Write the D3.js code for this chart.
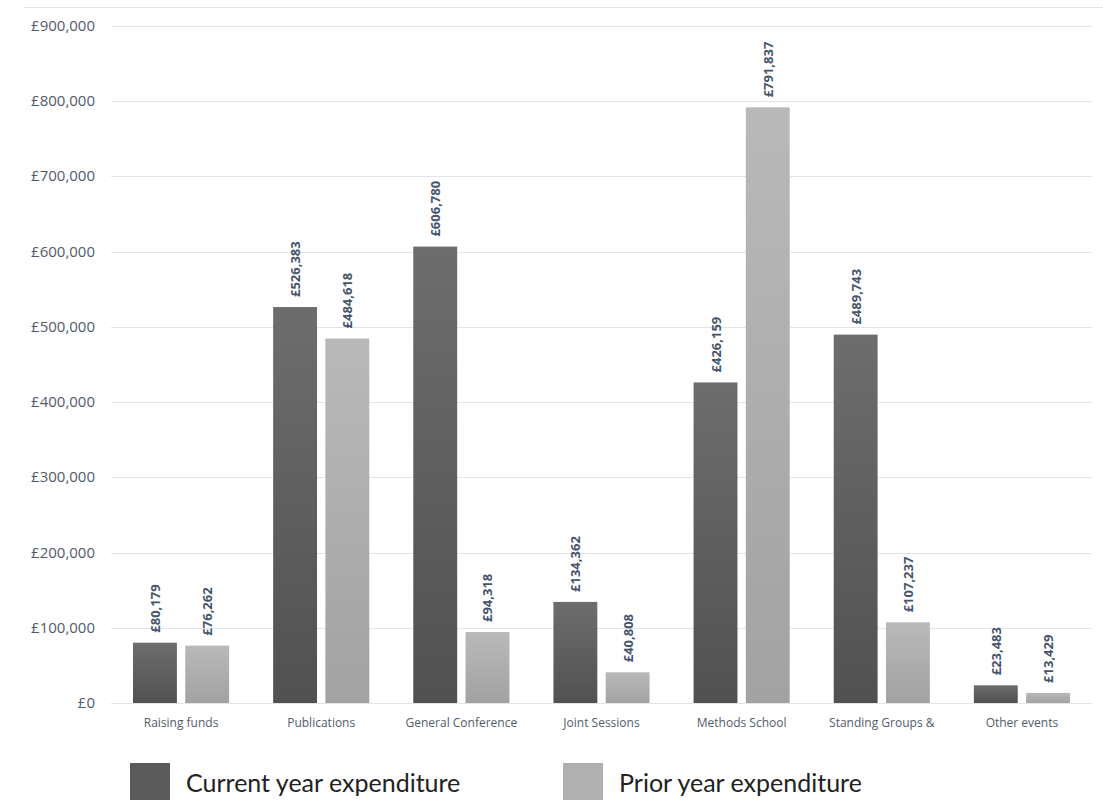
<!DOCTYPE html>
<html>
<head>
<meta charset="utf-8">
<script src="https://cdn.jsdelivr.net/npm/d3@7"></script>
<style>
  body { margin: 0; background: #fff; }
  svg { display: block; }
</style>
</head>
<body>
<div id="chart"></div>
<script>
// categories and values
const categories = ['Raising funds', 'Publications', 'General Conference', 'Joint Sessions', 'Methods School', 'Standing Groups &', 'Other events'];
const currentYear = [80179, 526383, 606780, 134362, 426159, 489743, 23483];
const priorYear = [76262, 484618, 94318, 40808, 791837, 107237, 13429];
const seriesNames = ['Current year expenditure', 'Prior year expenditure'];
const yTicks = [0, 100000, 200000, 300000, 400000, 500000, 600000, 700000, 800000, 900000];

const width = 1103, height = 800;
const margin = {top: 26, right: 11, bottom: 97, left: 111};

const svg = d3.select('#chart').append('svg')
    .attr('width', width)
    .attr('height', height);

// gradients for the bars (lighter at top, darker at bottom)
const defs = svg.append('defs');
function addGrad(id, top, bottom) {
    const g = defs.append('linearGradient').attr('id', id)
        .attr('x1', 0).attr('y1', 0).attr('x2', 0).attr('y2', 1);
    g.append('stop').attr('offset', '0%').attr('stop-color', top);
    g.append('stop').attr('offset', '100%').attr('stop-color', bottom);
}
addGrad('gCur', '#6d6d6d', '#515151');
addGrad('gPrior', '#b9b9b9', '#a2a2a2');

// thin line at the very top
svg.append('line')
    .attr('x1', 24).attr('x2', width)
    .attr('y1', 7.5).attr('y2', 7.5)
    .attr('stroke', '#e3e5ea');

const x0 = d3.scaleBand()
    .domain(categories)
    .range([margin.left, width - margin.right])
    .paddingInner(0).paddingOuter(0);

const x1 = d3.scaleBand()
    .domain(['cur', 'prior'])
    .range([22, x0.bandwidth() - 22])
    .paddingInner(0.16);

const y = d3.scaleLinear()
    .domain([0, 900000])
    .range([height - margin.bottom, margin.top]);

// grid
svg.append('g').selectAll('line')
    .data(yTicks)
    .join('line')
    .attr('x1', margin.left).attr('x2', width - margin.right)
    .attr('y1', d => Math.round(y(d)) + 0.5).attr('y2', d => Math.round(y(d)) + 0.5)
    .attr('stroke', '#e1e4ea');

// y labels
const fmt = d3.format(',');
svg.append('g').selectAll('text')
    .data(yTicks)
    .join('text')
    .attr('x', 95)
    .attr('y', d => y(d) + 5)
    .attr('text-anchor', 'end')
    .attr('font-family', 'Open Sans, sans-serif')
    .attr('font-size', 15)
    .attr('fill', '#515c6b')
    .text(d => '£' + fmt(d));

// x labels
svg.append('g').selectAll('text')
    .data(categories)
    .join('text')
    .attr('x', d => x0(d) + x0.bandwidth() / 2)
    .attr('y', 727)
    .attr('text-anchor', 'middle')
    .attr('font-family', 'Open Sans, sans-serif')
    .attr('font-size', 12)
    .attr('fill', '#515c6b')
    .text(d => d);

const rows = categories.map((c, i) => ({cat: c, vals: [
    {key: 'cur', v: currentYear[i]},
    {key: 'prior', v: priorYear[i]}
]}));

const groups = svg.append('g').selectAll('g')
    .data(rows)
    .join('g')
    .attr('transform', d => `translate(${x0(d.cat)},0)`);

groups.selectAll('rect')
    .data(d => d.vals)
    .join('rect')
    .attr('x', d => x1(d.key))
    .attr('width', x1.bandwidth())
    .attr('y', d => y(d.v))
    .attr('height', d => y(0) - y(d.v))
    .attr('fill', d => d.key === 'cur' ? 'url(#gCur)' : 'url(#gPrior)');

// value labels, rotated
groups.selectAll('text')
    .data(d => d.vals)
    .join('text')
    .attr('transform', d => `translate(${x1(d.key) + x1.bandwidth() / 2 + 5},${y(d.v) - 10}) rotate(-90)`)
    .attr('text-anchor', 'start')
    .attr('font-family', 'Open Sans, sans-serif')
    .attr('font-weight', 'bold')
    .attr('font-size', 13)
    .attr('fill', '#44546a')
    .text(d => '£' + fmt(d.v));

// legend
const legend = [
    {name: seriesNames[0], color: '#5a5a5a', x: 130},
    {name: seriesNames[1], color: '#b0b0b0', x: 563}
];
const lg = svg.append('g').selectAll('g')
    .data(legend)
    .join('g')
    .attr('transform', d => `translate(${d.x},763)`);
lg.append('rect')
    .attr('width', 40).attr('height', 40)
    .attr('fill', d => d.color);
lg.append('text')
    .attr('x', 56).attr('y', 29)
    .attr('font-family', 'Lato, sans-serif')
    .attr('font-size', 25)
    .attr('fill', '#222')
    .text(d => d.name);
</script>
</body>
</html>
